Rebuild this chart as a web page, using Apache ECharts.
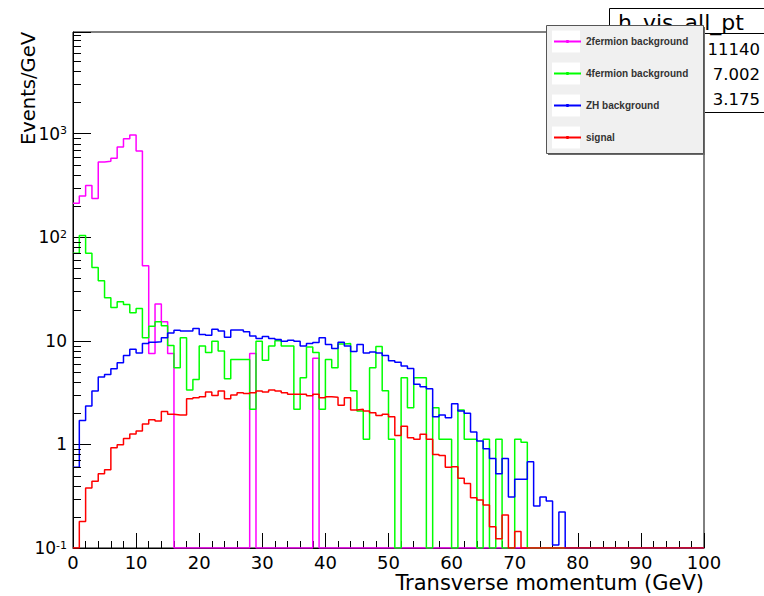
<!DOCTYPE html>
<html><head><meta charset="utf-8">
<script src="https://cdn.jsdelivr.net/npm/echarts@6/dist/echarts.min.js"></script>
<style>html,body{margin:0;padding:0;background:#fff}#c{width:764px;height:596px}</style>
</head><body><div id="c"></div>
<script>
// ---- data (bin lower edges in GeV, 1 GeV bins) ----
const binLow = [...Array(100).keys()];
const seriesNames = ['2fermion background', '4fermion background', 'ZH background', 'signal'];
const ferm2 = [212,249,316,236,532,540,578,740,890,966,
  677,53,7.55,22.7,15.3,7.55,0,0,0,0,
  0,0,0,0,0,0,0,0,7.55,0,
  0,0,0,0,0,0,0,0,6.8,0,
  0,0,0,0,0,0,0,0,0,0, 0,0,0,0,0,0,0,0,0,0,
  0,0,0,0,0,0,0,0,0,0, 0,0,0,0,0,0,0,0,0,0,
  0,0,0,0,0,0,0,0,0,0, 0,0,0,0,0,0,0,0,0,0];
const ferm4 = [70,104,70,51,38,26,21,23.8,22.4,18.6,
  20.5,10.7,13.8,15.3,14,9,5.5,10.7,3.35,4.24,
  8.9,7.7,9.9,7.95,4.3,6.6,6.6,6.6,2.18,9.9,
  6.5,8.9,10,8.9,8.9,2.18,4.4,8.7,7.7,2.18,
  6.6,5.5,9.3,9.4,3.3,2.1,1.12,5.5,8.8,3.3,
  1.12,0,4.4,2.26,4.4,4.4,0,2.26,1.12,1.12,
  0,2.15,1.12,1.12,0,1.12,0,1.12,0,0,
  1.12,1.05,0,0,0,0,0,0,0,0,
  0,0,0,0,0,0,0,0,0,0, 0,0,0,0,0,0,0,0,0,0];
const zh = [0.6,1.7,2.35,3.27,4.46,4.73,5.37,6.13,7.22,8.3,
  7.6,9.4,9.7,9.8,10.7,11.9,12.6,12.4,12.4,13.1,
  11.5,11.3,12.9,12.4,10.8,12.7,12.7,12.2,11.1,10.5,
  11.0,10.5,10.3,9.9,10.1,9.9,8.9,9.4,9.6,10.7,
  9.2,8.4,9.7,8.9,7.9,9.2,7.6,7.8,7.6,7.2,
  6.4,6.2,5.7,5.4,3.8,3.6,3.45,1.85,1.92,1.81,
  2.47,2.1,2.0,1.32,1.08,0.91,0.73,0.52,0.73,0.31,
  0.46,0.46,0.68,0.254,0.31,0.284,0.107,0.222,0,0,
  0,0,0,0,0,0,0,0,0,0, 0,0,0,0,0,0,0,0,0,0];
const signal = [0,0.18,0.38,0.44,0.52,0.57,0.93,0.99,1.14,1.26,
  1.35,1.57,1.73,1.68,2.08,1.95,1.92,1.92,2.76,2.82,
  2.88,3.2,2.97,3.27,2.75,3.0,3.15,3.1,3.15,3.27,
  3.2,3.35,3.27,3.15,3.04,3.04,3.04,2.95,3.04,2.82,
  2.88,2.85,2.38,2.82,2.15,2.18,2.1,2.02,1.9,1.95,
  1.85,1.22,1.5,1.16,1.12,1.25,1.12,0.8,0.78,0.6,
  0.61,0.47,0.42,0.305,0.29,0.26,0.16,0.123,0.208,0,
  0.144,0,0,0,0,0,0,0,0,0,
  0,0,0,0,0,0,0,0,0,0, 0,0,0,0,0,0,0,0,0,0];
const yMinorTicks = [0.2,0.3,0.4,0.5,0.6,0.7,0.8,0.9, 2,3,4,5,6,7,8,9,
  20,30,40,50,60,70,80,90, 200,300,400,500,600,700,800,900,
  2000,3000,4000,5000,6000,7000,8000,9000];
const statsTitle = 'h_vis_all_pt';
const statsValues = ['11140', '7.002', '3.175'];
const Y_MIN = 0.1, Y_MAX = 9550;

// ---- build ----
function hist(vals) {
  const d = vals.map((v, i) => [binLow[i], v > 0 ? v : Y_MIN]);
  const last = vals[vals.length - 1];
  d.push([binLow[binLow.length - 1] + 1, last > 0 ? last : Y_MIN]);
  return d;
}
const colors = ['#ff00ff', '#00ff00', '#0000ff', '#ff0000'];
const allVals = [ferm2, ferm4, zh, signal];
const FONT = 'DejaVu Sans';

const lineSeries = allVals.map((vals, k) => ({
  name: seriesNames[k], type: 'line', step: 'end', symbol: 'none', showSymbol: false,
  data: hist(vals), lineStyle: { color: colors[k], width: 1.5 }, itemStyle: { color: colors[k] },
  clip: true, z: 2 + k * 0.1, silent: true
}));

const chart = echarts.init(document.getElementById('c'), null, { renderer: 'svg' });
const option = {
  animation: false,
  backgroundColor: '#fff',
  grid: { left: 73, right: 60, top: 32, bottom: 48, show: true, borderColor: '#000', borderWidth: 1,
          containLabel: false, outerBoundsMode: 'none' },
  xAxis: {
    type: 'value', min: 0, max: 100, interval: 10,
    name: 'Transverse momentum (GeV)', nameLocation: 'end', nameGap: 0, nameMoveOverlap: false,
    nameTextStyle: { fontFamily: FONT, fontSize: 21, color: '#000', align: 'right', verticalAlign: 'top', padding: [24, 0, 0, 0] },
    axisLine: { show: true, lineStyle: { color: '#000', width: 1 } },
    axisTick: { show: true, inside: true, length: 15, lineStyle: { color: '#000' } },
    minorTick: { show: true, splitNumber: 5, length: 7, lineStyle: { color: '#000' } },
    axisLabel: { fontFamily: FONT, fontSize: 18, color: '#000', margin: 5 },
    splitLine: { show: false }
  },
  yAxis: {
    type: 'log', logBase: 10, min: Y_MIN, max: Y_MAX, splitNumber: 5,
    axisLine: { show: true, lineStyle: { color: '#000', width: 1 } },
    axisTick: { show: true, inside: true, length: 18, lineStyle: { color: '#000' } },
    minorTick: { show: false },
    splitLine: { show: false },
    axisLabel: {
      fontFamily: FONT, fontSize: 17, color: '#000', margin: 6,
      formatter: function (v) {
        const e = Math.round(Math.log10(v));
        if (Math.abs(v / Math.pow(10, e) - 1) > 1e-6) return '';
        if (e === 0) return '1';
        if (e === 1) return '10';
        return '10{s|' + e + '}';
      },
      rich: { s: { fontFamily: FONT, fontSize: 11, color: '#000', verticalAlign: 'top' } }
    }
  },
  legend: {
    data: seriesNames, orient: 'vertical', left: 553, top: 36.5, itemWidth: 27, itemHeight: 4, itemGap: 22,
    padding: 0, z: 10, selectedMode: false,
    textStyle: { fontFamily: 'Liberation Sans', fontSize: 10, fontWeight: 'bold', color: '#333' }
  },
  graphic: [
    { type: 'text', x: 38, y: 32, rotation: Math.PI / 2, z: 3,
      style: { text: 'Events/GeV', font: '19.5px "DejaVu Sans"', fill: '#000', align: 'right', textAlign: 'right', verticalAlign: 'bottom', textVerticalAlign: 'bottom' } },
    { type: 'rect', z: 5, shape: { x: 609.5, y: 8.5, width: 170, height: 104 }, style: { fill: '#fff', stroke: '#000', lineWidth: 1 } },
    { type: 'line', z: 5, shape: { x1: 609.5, y1: 33.5, x2: 764, y2: 33.5 }, style: { stroke: '#000', lineWidth: 1 } },
    { type: 'text', z: 5, x: 618, y: 22, style: { text: statsTitle, font: '22px "DejaVu Sans"', fill: '#000', align: 'left', textAlign: 'left', verticalAlign: 'middle', textVerticalAlign: 'middle' } },
    { type: 'text', z: 5, x: 760, y: 49, style: { text: statsValues[0], font: '16.5px "DejaVu Sans"', fill: '#000', align: 'right', textAlign: 'right', verticalAlign: 'middle', textVerticalAlign: 'middle' } },
    { type: 'text', z: 5, x: 760, y: 74.5, style: { text: statsValues[1], font: '16.5px "DejaVu Sans"', fill: '#000', align: 'right', textAlign: 'right', verticalAlign: 'middle', textVerticalAlign: 'middle' } },
    { type: 'text', z: 5, x: 760, y: 99, style: { text: statsValues[2], font: '16.5px "DejaVu Sans"', fill: '#000', align: 'right', textAlign: 'right', verticalAlign: 'middle', textVerticalAlign: 'middle' } },
    { type: 'rect', z: 6, shape: { x: 548, y: 27, width: 157, height: 128 }, style: { fill: '#6a6a6a' } },
    { type: 'rect', z: 6, shape: { x: 546.5, y: 25.5, width: 157, height: 128 }, style: { fill: '#f0f0f0', stroke: '#555', lineWidth: 1 } },
    { type: 'rect', z: 6, shape: { x: 552, y: 30.5, width: 28, height: 22 }, style: { fill: '#fff' } },
    { type: 'rect', z: 6, shape: { x: 552, y: 62.5, width: 28, height: 22 }, style: { fill: '#fff' } },
    { type: 'rect', z: 6, shape: { x: 552, y: 94.5, width: 28, height: 22 }, style: { fill: '#fff' } },
    { type: 'rect', z: 6, shape: { x: 552, y: 126.5, width: 28, height: 22 }, style: { fill: '#fff' } }
  ],
  series: lineSeries.concat([{
    type: 'custom', name: 'yminor', silent: true, z: 3,
    data: yMinorTicks.map(v => [0, v]),
    renderItem: function (params, api) {
      const p = api.coord([api.value(0), api.value(1)]);
      const y = Math.round(p[1]) + 0.5;
      return { type: 'line', shape: { x1: p[0], y1: y, x2: p[0] + 8, y2: y }, style: { stroke: '#000', lineWidth: 1 } };
    }
  }])
};
chart.setOption(option);
</script></body></html>
